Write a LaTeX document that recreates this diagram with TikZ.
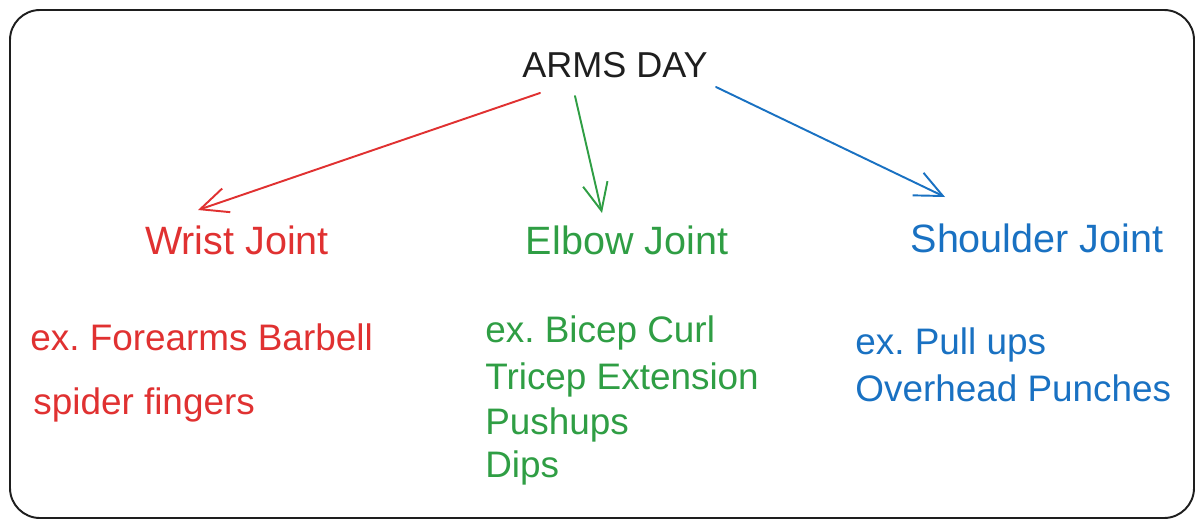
\documentclass[tikz,border=0pt]{standalone}
\usepackage{fontspec}
\setmainfont{Liberation Sans}
\usetikzlibrary{arrows.meta}
\definecolor{armsblack}{rgb}{0.118,0.118,0.118}
\definecolor{armsred}{rgb}{0.878,0.192,0.192}
\definecolor{armsgreen}{rgb}{0.184,0.620,0.267}
\definecolor{armsblue}{rgb}{0.098,0.443,0.761}
\frenchspacing
\tikzset{
  joint/.style={font=\fontsize{22.5}{26}\selectfont,inner sep=2pt},
  item/.style={font=\fontsize{21}{25}\selectfont,anchor=west,inner sep=0pt},
  armarrow/.style={line width=1.1pt,line cap=round,-{Straight Barb[length=0.55cm,width=0.5cm,line width=1.1pt]}}
}
\begin{document}
\begin{tikzpicture}[x=0.02cm,y=-0.02cm]
\useasboundingbox (0,0) rectangle (1203,528);
\draw[armsblack,line width=1.1pt,rounded corners=0.6cm] (10,10) rectangle (1194,518);
\node[joint,armsblack,font=\fontsize{20.5}{24}\selectfont] (arms) at (615,65) {ARMS DAY};
\node[joint,armsred] (wrist) at (237,240) {Wrist Joint};
\node[joint,armsgreen] (elbow) at (627,240) {Elbow Joint};
\node[joint,armsblue] (shoulder) at (1037,238) {Shoulder Joint};
% examples under each joint
\node[item,armsred] (wrist1) at (30,337) {ex. Forearms Barbell};
\node[item,armsred] (wrist2) at (33,405) {spider fingers};
\node[item,armsgreen] (elbow1) at (485,333) {ex. Bicep Curl};
\node[item,armsgreen] (elbow2) at (485,380) {Tricep Extension};
\node[item,armsgreen] (elbow3) at (485,425) {Pushups};
\node[item,armsgreen] (elbow4) at (485,468) {Dips};
\node[item,armsblue] (shoulder1) at (855,345) {ex. Pull ups};
\node[item,armsblue] (shoulder2) at (855,388) {Overhead Punches};
% arrow ends
\coordinate (redtail) at (540,93);
\coordinate (redhead) at (198,210);
\coordinate (greentail) at (575,96);
\coordinate (greenhead) at (602,213);
\coordinate (bluetail) at (716,87);
\coordinate (bluehead) at (945,197);
\draw[armarrow,armsred] (redtail) -- (redhead);
\draw[armarrow,armsgreen] (greentail) -- (greenhead);
\draw[armarrow,armsblue] (bluetail) -- (bluehead);
\end{tikzpicture}
\end{document}
